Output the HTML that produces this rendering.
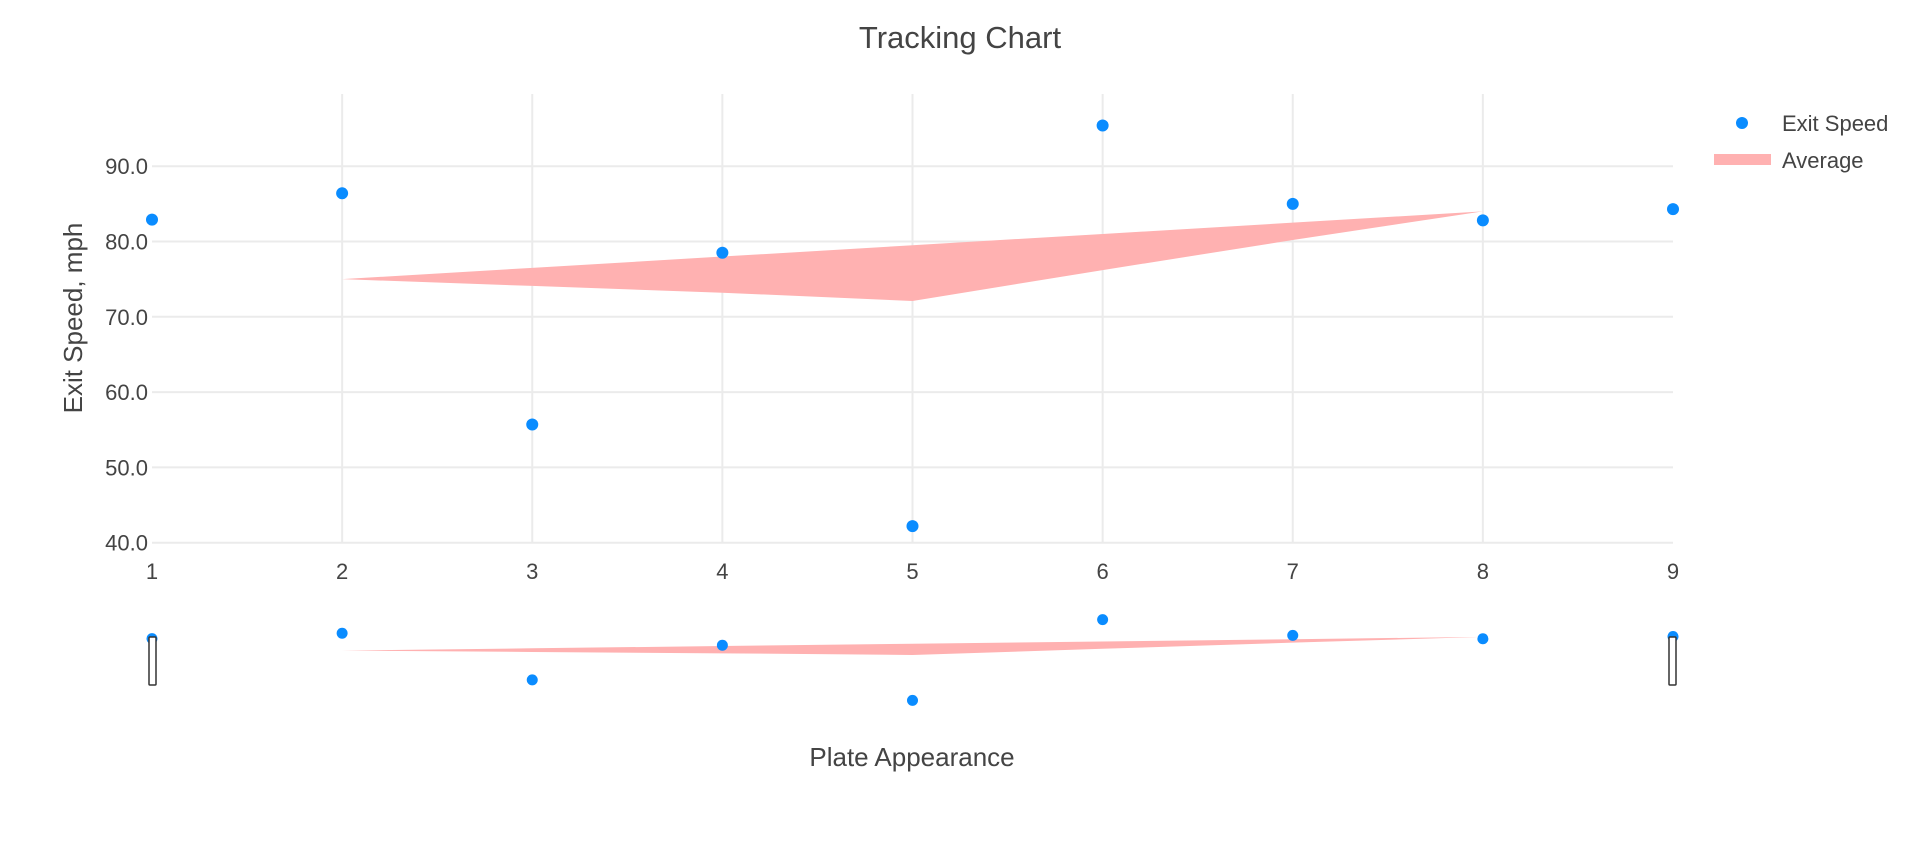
<!DOCTYPE html>
<html><head><meta charset="utf-8"><style>
html,body{margin:0;padding:0;background:#fff;}
svg text{font-family:"Liberation Sans",Arial,sans-serif;fill:#444;}
</style></head><body>
<svg id="chart" width="1920" height="859" xmlns="http://www.w3.org/2000/svg">
<text x="960" y="48" text-anchor="middle" font-size="31">Tracking Chart</text>
<g id="grid"></g>
<g id="band"></g>
<g id="points"></g>
<g id="slider"></g>
<text transform="translate(82,318) rotate(-90)" text-anchor="middle" font-size="26">Exit Speed, mph</text>
<text x="912" y="766" text-anchor="middle" font-size="26">Plate Appearance</text>
<g>
<circle cx="1742" cy="123" r="6" fill="#0a8cff"/>
<text x="1782" y="131" font-size="22">Exit Speed</text>
<rect x="1714" y="154" width="57" height="11" fill="#ffb1b1"/>
<text x="1782" y="168" font-size="22">Average</text>
</g>
</svg>
<script>
const categories=[1,2,3,4,5,6,7,8,9];
const exitSpeed=[82.9,86.4,55.7,78.5,42.2,95.4,85.0,82.8,84.3];
const avgX=[2,3,4,5,6,7,8];
const avgUpper=[75,76.5,78,79.5,81,82.5,84];
const avgLower=[75,74.1,73.2,72.1,76.2,80.2,84];
const yTicks=[40,50,60,70,80,90];
const yTickLabels=["40.0","50.0","60.0","70.0","80.0","90.0"];

const NS="http://www.w3.org/2000/svg";
const X0=152,X1=1673,PT=94,PB=543;
const xs=v=>X0+(v-1)*(X1-X0)/8;
const ys=v=>542.7-(v-40)*7.53;
const sys=v=>700.4-(v-42.2)*(700.4-619.6)/(95.4-42.2);
function mk(tag,attrs,parent){const e=document.createElementNS(NS,tag);for(const k in attrs)e.setAttribute(k,attrs[k]);document.getElementById(parent).appendChild(e);return e;}

yTicks.forEach((t,i)=>{
  const l=mk('line',{x1:X0,x2:X1,y1:ys(t),y2:ys(t),stroke:'#ebebeb','stroke-width':2},'grid');
  
  
  const tx=mk('text',{x:X0-4,y:ys(t)+8,'text-anchor':'end','font-size':22},'grid');
  tx.textContent=yTickLabels[i];
  
  
});
categories.forEach(c=>{
  if(c>1&&c<9){
    const l=mk('line',{x1:xs(c),x2:xs(c),y1:PT,y2:PB,stroke:'#ebebeb','stroke-width':2},'grid');
    
    
  }
  const tx=mk('text',{x:xs(c),y:579,'text-anchor':'middle','font-size':22},'grid');
  tx.textContent=String(c);
  
  
});

function bandPath(yf){
  let p=avgX.map((x,i)=>(i?'L':'M')+xs(x)+','+yf(avgUpper[i])).join(' ');
  for(let i=avgX.length-1;i>=0;i--)p+=' L'+xs(avgX[i])+','+yf(avgLower[i]);
  return p+' Z';
}
const band=mk('path',{d:bandPath(ys),fill:'#ffb1b1'},'band');



exitSpeed.forEach((v,i)=>{
  const c=mk('circle',{cx:xs(categories[i]),cy:ys(v),r:6,fill:'#0a8cff'},'points');
  
  
});

const sb=mk('path',{d:bandPath(sys),fill:'#ffb1b1'},'slider');


exitSpeed.forEach((v,i)=>{
  const c=mk('circle',{cx:xs(categories[i]),cy:sys(v),r:5.5,fill:'#0a8cff'},'slider');
  
  
});
[X0-3,X1-4].forEach((x,i)=>{
  const h=mk('rect',{x:x,y:637,width:7,height:48,rx:1,fill:'#fff',stroke:'#333','stroke-width':1.5},'slider');
  
  
});
</script>
</body></html>
